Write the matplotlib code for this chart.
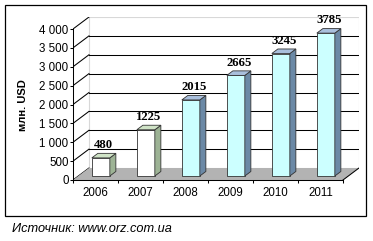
import matplotlib
matplotlib.use("Agg")
import matplotlib.pyplot as plt
from matplotlib.patches import Polygon, Rectangle

years = ["2006", "2007", "2008", "2009", "2010", "2011"]
values = [480, 1225, 2015, 2665, 3245, 3785]
front_colors = ["#ffffff", "#ffffff", "#ccffff", "#ccffff", "#ccffff", "#ccffff"]
top_colors = ["#cfe3c6", "#cfe3c6", "#a9bfdc", "#a9bfdc", "#a9bfdc", "#a9bfdc"]
side_colors = ["#9db395", "#9db395", "#6b89a6", "#6b89a6", "#6b89a6", "#6b89a6"]
yticks = [0, 500, 1000, 1500, 2000, 2500, 3000, 3500, 4000]
ytick_labels = ["0", "500", "1 000", "1 500", "2 000", "2 500", "3 000", "3 500", "4 000"]
ylabel = "млн. USD"
source = "Источник: www.orz.com.ua"

W, H = 373, 241
fig = plt.figure(figsize=(W / 100, H / 100), dpi=100)
fig.patch.set_facecolor("white")

# depth of the pseudo-3D box, in data units
dxt = 16 / 45
dyt = 12 * 4000 / 151
d1, d2 = 1 / 3, 0.71
bw = 0.4
n = len(values)

ax = fig.add_axes([73 / W, 61 / H, 286 / W, 163 / H])
ax.set_xlim(-0.5, n - 0.5 + dxt)
ax.set_ylim(0, 4000 + dyt)
ax.set_facecolor("none")

lw = 0.75
# back wall
ax.add_patch(Rectangle((-0.5 + dxt, dyt), n, 4000, facecolor="white",
                       edgecolor="#d8d8d8", lw=0.8, zorder=0))
for v in yticks:
    if 0 < v < 4000:
        ax.plot([-0.5 + dxt, n - 0.5 + dxt], [v + dyt, v + dyt], color="black", lw=lw, zorder=1)
    ax.plot([-0.5, -0.5 + dxt], [v, v + dyt], color="black", lw=lw, zorder=1)

# floor
ax.add_patch(Polygon([(-0.5, 0), (n - 0.5, 0), (n - 0.5 + dxt, dyt), (-0.5 + dxt, dyt)],
                     closed=True, facecolor="#b3b3b3", edgecolor="none", zorder=2))
ax.plot([n - 0.5, n - 0.5 + dxt], [0, dyt], color="black", lw=lw, zorder=2)

# bars
ddx = (d2 - d1) * dxt
ddy = (d2 - d1) * dyt
base = d1 * dyt
xs = [i + d1 * dxt for i in range(n)]
ax.bar(xs, values, width=bw, bottom=base, color=front_colors,
       edgecolor="#333333", linewidth=0.6, zorder=3)
for i, v in enumerate(values):
    x0 = xs[i] - bw / 2
    x1 = xs[i] + bw / 2
    top = base + v
    ax.add_patch(Polygon([(x1, base), (x1 + ddx, base + ddy), (x1 + ddx, top + ddy), (x1, top)],
                         closed=True, facecolor=side_colors[i], edgecolor="#333333", lw=0.6, zorder=3))
    ax.add_patch(Polygon([(x0, top), (x1, top), (x1 + ddx, top + ddy), (x0 + ddx, top + ddy)],
                         closed=True, facecolor=top_colors[i], edgecolor="#333333", lw=0.6, zorder=3))
    ax.text(xs[i] + ddx / 2, top + ddy + 60, str(v), ha="center", va="bottom",
            family="Liberation Serif", fontweight="bold", fontsize=9.2, zorder=5)

# axes
for s in ["top", "right"]:
    ax.spines[s].set_visible(False)
ax.spines["left"].set_bounds(0, 4000)
ax.spines["bottom"].set_bounds(-0.5, n - 0.5)
for s in ["left", "bottom"]:
    ax.spines[s].set_linewidth(lw)
    ax.spines[s].set_zorder(4)
ax.set_yticks(yticks)
ax.set_yticklabels(ytick_labels, family="Liberation Sans", fontsize=8.3)
ax.set_xticks(range(n))
ax.set_xticklabels(years, family="Liberation Sans", fontsize=8.3)
ax.set_xticks([i - 0.5 for i in range(n + 1)], minor=True)
ax.tick_params(axis="x", which="major", length=0, pad=5)
ax.tick_params(axis="x", which="minor", length=2.2, width=lw, direction="out")
ax.tick_params(axis="y", length=2.2, width=lw, pad=1)

fig.text(23 / W, 1 - 105 / H, ylabel, rotation=90, ha="center", va="center",
         family="Liberation Sans", fontweight="bold", fontsize=8)

# outer frame
fig.add_artist(Rectangle((4.5 / W, 1 - 215.5 / H), 361 / W, 211 / H, transform=fig.transFigure,
                         facecolor="none", edgecolor="black", lw=0.9))
fig.text(12 / W, 1 - 229 / H, source, ha="left", va="center", style="italic",
         family="Liberation Sans", fontsize=9.2)

fig.savefig("out.png", dpi=100)
